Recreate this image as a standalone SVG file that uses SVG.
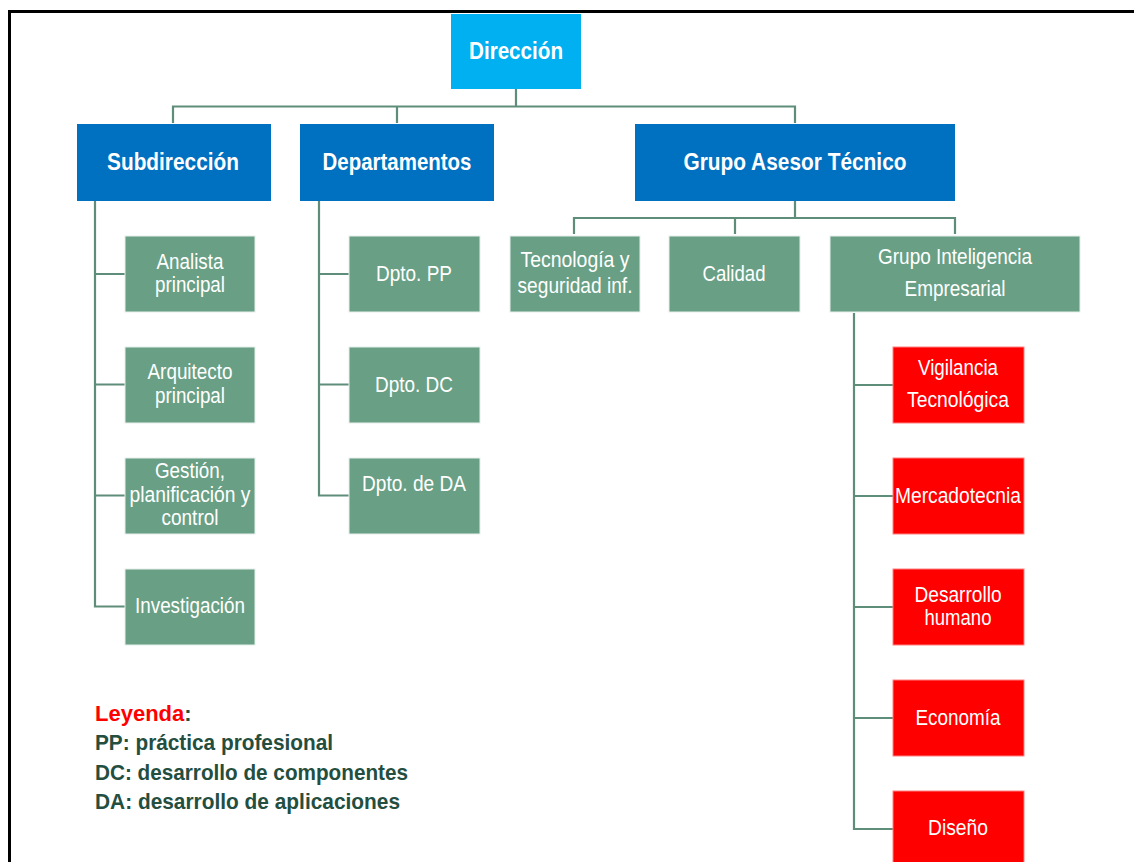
<svg xmlns="http://www.w3.org/2000/svg" width="1134" height="862" viewBox="0 0 1134 862">
<style>
.frame{fill:none;stroke:#000;stroke-width:3}
.c{fill:none;stroke:#5E8E79;stroke-width:2.2}
.top{fill:#00B0F0}
.l1{fill:#0070C0}
.g{fill:#689F85;stroke:#E6F0EB;stroke-width:1}
.r{fill:#FF0000;stroke:#FF8080;stroke-width:1}
.tb{font-family:"Liberation Sans",Arial,sans-serif;font-weight:bold;font-size:24px;fill:#fff;text-anchor:middle}
.t{font-family:"Liberation Sans",Arial,sans-serif;font-size:22px;fill:#fff;text-anchor:middle}
.lg{font-family:"Liberation Sans",Arial,sans-serif;font-weight:bold;font-size:22px;fill:#234E40}
</style>
<rect class="frame" x="9.5" y="11.5" width="1300" height="1000"/>
<g id="connectors">
<path class="c" d="M516 89 V106.5 M173 123 V106.5 H795 V123 M397 106.5 V123"/>
<path class="c" d="M95 201 V606.5 H125 M95 274 H125 M95 384.5 H125 M95 495.5 H125"/>
<path class="c" d="M319 201 V495.5 H349 M319 274 H349 M319 384.5 H349"/>
<path class="c" d="M795 201 V218 M574 234 V218 H955 V234 M735 218 V234"/>
<path class="c" d="M854 313 V829 H893 M854 385 H893 M854 496 H893 M854 607 H893 M854 718 H893"/>
</g>
<g id="direccion"><rect class="top" x="451" y="14" width="130" height="75"/><text class="tb" x="516" y="59" textLength="94" lengthAdjust="spacingAndGlyphs">Dirección</text></g>
<g id="subdireccion"><rect class="l1" x="77" y="124" width="194" height="77"/><text class="tb" x="173" y="170" textLength="132" lengthAdjust="spacingAndGlyphs">Subdirección</text></g>
<g id="departamentos"><rect class="l1" x="300" y="124" width="194" height="77"/><text class="tb" x="397" y="170" textLength="149" lengthAdjust="spacingAndGlyphs">Departamentos</text></g>
<g id="grupo-asesor"><rect class="l1" x="635" y="124" width="320" height="77"/><text class="tb" x="795" y="170" textLength="223" lengthAdjust="spacingAndGlyphs">Grupo Asesor Técnico</text></g>
<g id="analista"><rect class="g" x="125" y="236" width="130" height="76"/><text class="t" x="190" y="269" textLength="67" lengthAdjust="spacingAndGlyphs">Analista</text><text class="t" x="190" y="292" textLength="70" lengthAdjust="spacingAndGlyphs">principal</text></g>
<g id="arquitecto"><rect class="g" x="125" y="347" width="130" height="76"/><text class="t" x="190" y="379" textLength="85" lengthAdjust="spacingAndGlyphs">Arquitecto</text><text class="t" x="190" y="403" textLength="70" lengthAdjust="spacingAndGlyphs">principal</text></g>
<g id="gestion"><rect class="g" x="125" y="458" width="130" height="76"/><text class="t" x="190" y="478" textLength="70" lengthAdjust="spacingAndGlyphs">Gestión,</text><text class="t" x="190" y="502" textLength="121" lengthAdjust="spacingAndGlyphs">planificación y</text><text class="t" x="190" y="525" textLength="57" lengthAdjust="spacingAndGlyphs">control</text></g>
<g id="investigacion"><rect class="g" x="125" y="569" width="130" height="76"/><text class="t" x="190" y="613" textLength="110" lengthAdjust="spacingAndGlyphs">Investigación</text></g>
<g id="dpto-pp"><rect class="g" x="349" y="236" width="131" height="76"/><text class="t" x="414" y="281" textLength="76" lengthAdjust="spacingAndGlyphs">Dpto. PP</text></g>
<g id="dpto-dc"><rect class="g" x="349" y="347" width="131" height="76"/><text class="t" x="414" y="392" textLength="78" lengthAdjust="spacingAndGlyphs">Dpto. DC</text></g>
<g id="dpto-da"><rect class="g" x="349" y="458" width="131" height="76"/><text class="t" x="414" y="491" textLength="104" lengthAdjust="spacingAndGlyphs">Dpto. de DA</text></g>
<g id="tecnologia"><rect class="g" x="510" y="236" width="130" height="76"/><text class="t" x="575" y="267" textLength="109" lengthAdjust="spacingAndGlyphs">Tecnología y</text><text class="t" x="575" y="293" textLength="115" lengthAdjust="spacingAndGlyphs">seguridad inf.</text></g>
<g id="calidad"><rect class="g" x="669" y="236" width="131" height="76"/><text class="t" x="734" y="281" textLength="63" lengthAdjust="spacingAndGlyphs">Calidad</text></g>
<g id="grupo-inteligencia"><rect class="g" x="830" y="236" width="250" height="76"/><text class="t" x="955" y="264" textLength="154" lengthAdjust="spacingAndGlyphs">Grupo Inteligencia</text><text class="t" x="955" y="296" textLength="101" lengthAdjust="spacingAndGlyphs">Empresarial</text></g>
<g id="vigilancia"><rect class="r" x="893" y="347" width="131" height="76"/><text class="t" x="958" y="375" textLength="80" lengthAdjust="spacingAndGlyphs">Vigilancia</text><text class="t" x="958" y="407" textLength="102" lengthAdjust="spacingAndGlyphs">Tecnológica</text></g>
<g id="mercadotecnia"><rect class="r" x="893" y="458" width="131" height="76"/><text class="t" x="958" y="503" textLength="126" lengthAdjust="spacingAndGlyphs">Mercadotecnia</text></g>
<g id="desarrollo"><rect class="r" x="893" y="569" width="131" height="76"/><text class="t" x="958" y="602" textLength="87" lengthAdjust="spacingAndGlyphs">Desarrollo</text><text class="t" x="958" y="625" textLength="67" lengthAdjust="spacingAndGlyphs">humano</text></g>
<g id="economia"><rect class="r" x="893" y="680" width="131" height="76"/><text class="t" x="958" y="725" textLength="85" lengthAdjust="spacingAndGlyphs">Economía</text></g>
<g id="diseno"><rect class="r" x="893" y="791" width="131" height="76"/><text class="t" x="958" y="835" textLength="60" lengthAdjust="spacingAndGlyphs">Diseño</text></g>
<g id="legend">
<text class="lg" x="95" y="721"><tspan fill="#FF0000">Leyenda</tspan>:</text>
<text class="lg" x="95" y="750" textLength="238" lengthAdjust="spacingAndGlyphs">PP: práctica profesional</text>
<text class="lg" x="95" y="780" textLength="313" lengthAdjust="spacingAndGlyphs">DC: desarrollo de componentes</text>
<text class="lg" x="95" y="809" textLength="305" lengthAdjust="spacingAndGlyphs">DA: desarrollo de aplicaciones</text>
</g>
</svg>
